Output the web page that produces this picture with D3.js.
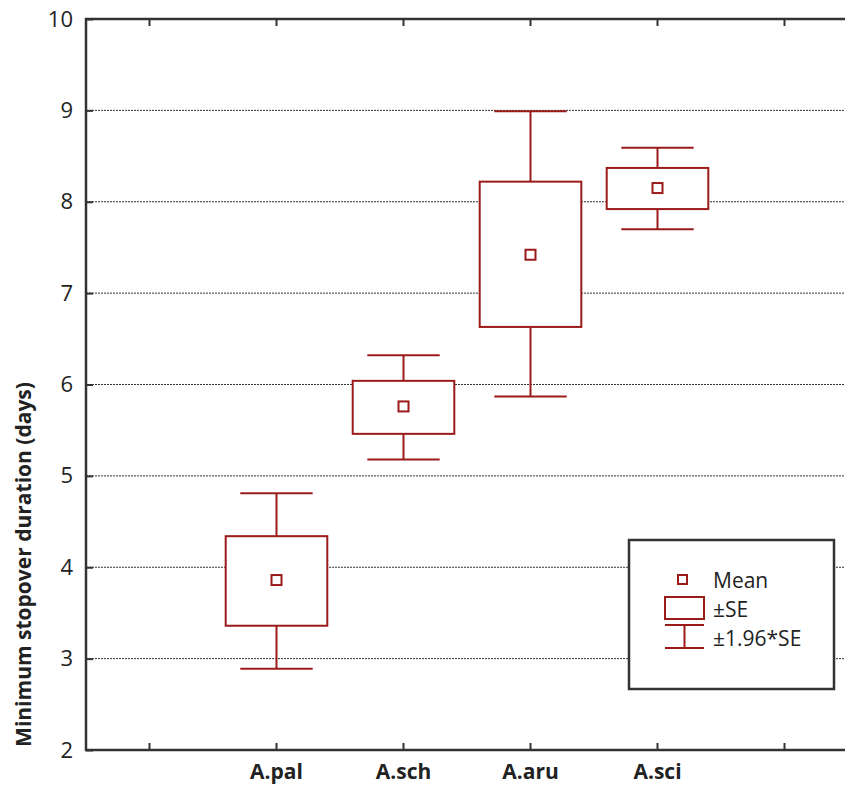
<!DOCTYPE html>
<html>
<head>
<meta charset="utf-8">
<script src="https://cdn.jsdelivr.net/npm/d3@7"></script>
<style>
  body { margin: 0; background: #fff; }
  text { font-family: "Open Sans", "Noto Sans", sans-serif; fill: #222; }
</style>
</head>
<body>
<div id="chart"></div>
<script>
// group summary: mean, +-SE box, +-1.96*SE whiskers
const groups = ["A.pal", "A.sch", "A.aru", "A.sci"];
const means = [3.86, 5.76, 7.42, 8.15];
const se_lo = [3.36, 5.46, 6.63, 7.92];
const se_hi = [4.34, 6.04, 8.22, 8.37];
const ci_lo = [2.89, 5.18, 5.87, 7.70];
const ci_hi = [4.81, 6.32, 8.99, 8.59];
const y_ticks = [2, 3, 4, 5, 6, 7, 8, 9, 10];
const legend_labels = ["Mean", "\u00b1SE", "\u00b11.96*SE"];

const width = 845, height = 786;
const margin = {left: 86, right: -3, top: 19, bottom: 36};
const col = "#9b1b1b";
const ink = "#333";

// empty slots on both ends like the original axis
const slots = ["_l"].concat(groups, ["_r"]);

const svg = d3.select("#chart").append("svg")
	.attr("width", width)
	.attr("height", height);

const x = d3.scaleBand()
	.domain(slots)
	.range([margin.left, width - margin.right]);

const y = d3.scaleLinear()
	.domain([2, 10])
	.range([height - margin.bottom, margin.top]);

const bw = x.bandwidth();
const box_w = bw * 0.8;
const cap_w = bw * 0.57;

// grid
svg.append("g")
	.selectAll("line")
	.data(y_ticks.filter(d => d > 2 && d < 10))
	.join("line")
	.attr("x1", margin.left)
	.attr("x2", width - margin.right)
	.attr("y1", d => y(d))
	.attr("y2", d => y(d))
	.attr("stroke", ink)
	.attr("stroke-width", 1)
	.attr("stroke-dasharray", "2,1");

// frame
svg.append("rect")
	.attr("x", margin.left)
	.attr("y", margin.top)
	.attr("width", width - margin.right - margin.left)
	.attr("height", y(2) - y(10))
	.attr("fill", "none")
	.attr("stroke", ink)
	.attr("stroke-width", 2.5);

// y axis
const y_axis = svg.append("g")
	.attr("transform", `translate(${margin.left},0)`)
	.call(d3.axisLeft(y).tickValues(y_ticks).tickSizeInner(-7).tickSizeOuter(0).tickPadding(13));
y_axis.select(".domain").remove();
y_axis.selectAll(".tick line").attr("stroke", ink).attr("stroke-width", 2);
y_axis.selectAll(".tick text")
	.attr("font-size", 22)
	.attr("fill", "#222");

// x axis bottom
const x_axis = svg.append("g")
	.attr("transform", `translate(0,${y(2)})`)
	.call(d3.axisBottom(x).tickSizeInner(-7).tickSizeOuter(0).tickPadding(14)
		.tickFormat(d => d.startsWith("_") ? "" : d));
x_axis.select(".domain").remove();
x_axis.selectAll(".tick line").attr("stroke", ink).attr("stroke-width", 2);
x_axis.selectAll(".tick text")
	.attr("font-size", 21)
	.attr("font-weight", "bold")
	.attr("fill", "#222");

// x axis top, ticks only
const x_top = svg.append("g")
	.attr("transform", `translate(0,${y(10)})`)
	.call(d3.axisTop(x).tickSizeInner(-7).tickSizeOuter(0).tickFormat(""));
x_top.select(".domain").remove();
x_top.selectAll(".tick line").attr("stroke", ink).attr("stroke-width", 2);

// y title
svg.append("text")
	.attr("transform", `translate(31,${(y(2) + y(10)) / 2 + 180}) rotate(-90)`)
	.attr("text-anchor", "middle")
	.attr("font-size", 21)
	.attr("font-weight", "bold")
	.attr("fill", "#222")
	.text("Minimum stopover duration (days)");

// boxes
const data = groups.map((g, i) => ({
	g: g, mean: means[i], lo: se_lo[i], hi: se_hi[i], wlo: ci_lo[i], whi: ci_hi[i]
}));

const box = svg.append("g")
	.selectAll("g")
	.data(data)
	.join("g")
	.attr("transform", d => `translate(${x(d.g) + bw / 2},0)`)
	.attr("stroke", col)
	.attr("stroke-width", 2)
	.attr("fill", "none");

box.append("line")
	.attr("y1", d => y(d.whi))
	.attr("y2", d => y(d.hi));
box.append("line")
	.attr("y1", d => y(d.lo))
	.attr("y2", d => y(d.wlo));
box.append("line")
	.attr("x1", -cap_w / 2)
	.attr("x2", cap_w / 2)
	.attr("y1", d => y(d.whi))
	.attr("y2", d => y(d.whi));
box.append("line")
	.attr("x1", -cap_w / 2)
	.attr("x2", cap_w / 2)
	.attr("y1", d => y(d.wlo))
	.attr("y2", d => y(d.wlo));
box.append("rect")
	.attr("x", -box_w / 2)
	.attr("width", box_w)
	.attr("y", d => y(d.hi))
	.attr("height", d => y(d.lo) - y(d.hi))
	.attr("fill", "#fff");
box.append("rect")
	.attr("x", -5)
	.attr("width", 10)
	.attr("y", d => y(d.mean) - 5)
	.attr("height", 10);

// legend
const lg = svg.append("g").attr("transform", "translate(629,540)");
lg.append("rect")
	.attr("width", 205)
	.attr("height", 149)
	.attr("fill", "#fff")
	.attr("stroke", ink)
	.attr("stroke-width", 2.5);

const sym = lg.append("g")
	.attr("stroke", col)
	.attr("stroke-width", 2)
	.attr("fill", "none");
sym.append("rect").attr("x", 49).attr("y", 35).attr("width", 9).attr("height", 9);
sym.append("rect").attr("x", 36).attr("y", 57).attr("width", 39).attr("height", 22);
sym.append("line").attr("x1", 36).attr("x2", 75).attr("y1", 85).attr("y2", 85);
sym.append("line").attr("x1", 36).attr("x2", 75).attr("y1", 108).attr("y2", 108);
sym.append("line").attr("x1", 55.5).attr("x2", 55.5).attr("y1", 85).attr("y2", 108);

lg.selectAll("text.lab")
	.data(legend_labels)
	.join("text")
	.attr("class", "lab")
	.attr("x", 84)
	.attr("y", (d, i) => 48 + i * 29)
	.attr("font-size", 21)
	.attr("fill", "#222")
	.text(d => d);
</script>
</body>
</html>
